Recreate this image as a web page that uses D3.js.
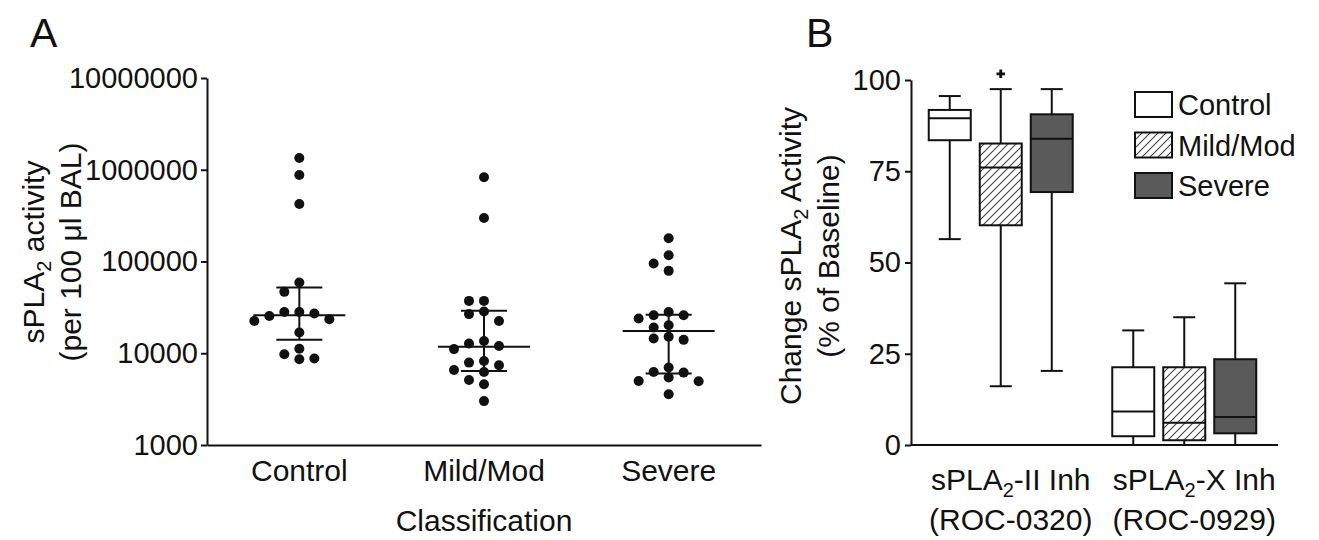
<!DOCTYPE html>
<html>
<head>
<meta charset="utf-8">
<script src="https://cdn.jsdelivr.net/npm/d3@7"></script>
<style>
body { margin: 0; background: #fff; }
text { font-family: "Liberation Sans", Arial, sans-serif; fill: #111; }
</style>
</head>
<body>
<svg id="chart" width="1319" height="540"></svg>
<script>
// Panel A: sPLA2 activity per subject (log scale)
let groupsA = ['Control', 'Mild/Mod', 'Severe'];
let controlA = [1340000, 877000, 424000, 59000, 46700, 28200, 28200, 27100, 25500, 23500, 22500, 16800, 11200, 9750, 8750, 8600];
let mildA = [828000, 298000, 37200, 37200, 28500, 26700, 22500, 13600, 12800, 12000, 11100, 8240, 7910, 7400, 6570, 6250, 5120, 4590, 3010];
let severeA = [179000, 117000, 95300, 79100, 28200, 26000, 26000, 23900, 20200, 19100, 15100, 14500, 14000, 6980, 6250, 6150, 5430, 4990, 4950, 3570];
let medianA = [26000, 11800, 17500];
let q1A = [14000, 6400, 6000];
let q3A = [52000, 29000, 26200];
let ticksA = [1000, 10000, 100000, 1000000, 10000000];

// Panel B: change in activity, boxes as [min, q1, median, q3, max]
let categoriesB = ['sPLA2-II', 'sPLA2-X'];
let catLine1 = ['-II Inh', '-X Inh'];
let catLine2 = ['(ROC-0320)', '(ROC-0929)'];
let groupsB = ['Control', 'Mild/Mod', 'Severe'];
let controlB = [[56.4, 83.5, 89.5, 91.8, 95.6], [0, 2.4, 9.2, 21.3, 31.4]];
let mildB = [[16.1, 60.2, 76.0, 82.6, 97.5], [0, 1.3, 6.1, 21.3, 35.0]];
let severeB = [[20.3, 69.3, 83.9, 90.6, 97.5], [0, 3.2, 7.7, 23.5, 44.3]];
let outliersB = [{ group: 'Mild/Mod', cat: 'sPLA2-II', value: 101.7 }];
let ticksB = [0, 25, 50, 75, 100];
let fillsB = ['#ffffff', 'url(#hatch)', '#5a5a5a'];

let svg = d3.select('#chart');
svg.append('rect').attr('width', 1319).attr('height', 540).attr('fill', '#fff');

let defs = svg.append('defs');
let pat = defs.append('pattern')
    .attr('id', 'hatch')
    .attr('patternUnits', 'userSpaceOnUse')
    .attr('width', 8)
    .attr('height', 8);
pat.append('rect').attr('width', 8).attr('height', 8).attr('fill', '#fff');
pat.append('path')
    .attr('d', 'M-2,2 l4,-4 M0,8 l8,-8 M6,10 l4,-4')
    .attr('stroke', '#444')
    .attr('stroke-width', 1.1);

function styleAxis(g) {
    g.selectAll('path, line').attr('stroke', '#111').attr('stroke-width', 2);
    g.selectAll('text').style('font-family', '"Liberation Sans", Arial, sans-serif').attr('fill', '#111');
}

// ---------- Panel A ----------
let xA = d3.scaleBand().domain(groupsA).range([207, 761]);
let yA = d3.scaleLog().domain([1000, 10000000]).range([445, 78]);

svg.append('g')
    .attr('transform', 'translate(207,0)')
    .call(d3.axisLeft(yA).tickValues(ticksA).tickFormat(d3.format('d')).tickSize(6).tickSizeOuter(0).tickPadding(3))
    .call(styleAxis)
    .selectAll('text').style('font-size', '29px');

svg.append('g')
    .attr('transform', 'translate(0,445)')
    .call(d3.axisBottom(xA).tickSize(0).tickSizeOuter(0).tickPadding(15))
    .call(styleAxis)
    .selectAll('text').style('font-size', '30px');

svg.append('text')
    .attr('x', xA(groupsA[1]) + xA.bandwidth() / 2)
    .attr('y', 531)
    .attr('text-anchor', 'middle')
    .style('font-size', '30px')
    .text('Classification');

let titleA1 = svg.append('text')
    .attr('transform', 'translate(44,252) rotate(-90)')
    .attr('text-anchor', 'middle')
    .style('font-size', '30px');
titleA1.append('tspan').text('sPLA');
titleA1.append('tspan').attr('dy', 7).style('font-size', '20px').text('2');
titleA1.append('tspan').attr('dy', -7).text(' activity');

svg.append('text')
    .attr('transform', 'translate(81,252) rotate(-90)')
    .attr('text-anchor', 'middle')
    .style('font-size', '30px')
    .text('(per 100 \u03bcl BAL)');

svg.append('text').attr('x', 30).attr('y', 47).style('font-size', '41px').text('A');

// simple column dodge so dots don't overlap
function swarm(values, cx) {
    let placed = [];
    let order = [0, -1, 1, -2, 2, -3, 3, -4, 4];
    values.slice().sort((a, b) => b - a).forEach(v => {
        let py = yA(v);
        for (let k of order) {
            let hit = placed.some(p => p.k === k && Math.abs(p.y - py) < 10);
            if (!hit) {
                placed.push({ k: k, y: py, x: cx + k * 15 });
                break;
            }
        }
    });
    return placed;
}

let seriesA = [controlA, mildA, severeA];
groupsA.forEach((g, i) => {
    let cx = xA(g) + xA.bandwidth() / 2;
    let pts = swarm(seriesA[i], cx);
    svg.append('g').selectAll('circle')
        .data(pts)
        .join('circle')
        .attr('cx', d => d.x)
        .attr('cy', d => d.y)
        .attr('r', 5)
        .attr('fill', '#111');

    let eg = svg.append('g').attr('stroke', '#111').attr('stroke-width', 2);
    eg.append('line').attr('x1', cx - 46).attr('x2', cx + 46).attr('y1', yA(medianA[i])).attr('y2', yA(medianA[i]));
    eg.append('line').attr('x1', cx).attr('x2', cx).attr('y1', yA(q1A[i])).attr('y2', yA(q3A[i]));
    eg.append('line').attr('x1', cx - 23).attr('x2', cx + 23).attr('y1', yA(q1A[i])).attr('y2', yA(q1A[i]));
    eg.append('line').attr('x1', cx - 23).attr('x2', cx + 23).attr('y1', yA(q3A[i])).attr('y2', yA(q3A[i]));
});

// ---------- Panel B ----------
let x0 = d3.scaleBand().domain(categoriesB).range([909, 1276]);
let x1 = d3.scalePoint().domain(groupsB).range([-51, 51]);
let yB = d3.scaleLinear().domain([0, 100]).range([445, 80]);
let boxW = 42, capW = 22;

svg.append('g')
    .attr('transform', 'translate(911,0)')
    .call(d3.axisLeft(yB).tickValues(ticksB).tickSize(6).tickSizeOuter(0).tickPadding(4))
    .call(styleAxis)
    .selectAll('text').style('font-size', '29px');

svg.append('line')
    .attr('x1', 911).attr('x2', 1278)
    .attr('y1', 445).attr('y2', 445)
    .attr('stroke', '#111').attr('stroke-width', 2);

categoriesB.forEach((c, i) => {
    let cx = x0(c) + x0.bandwidth() / 2 + 10;
    let t = svg.append('text')
        .attr('x', cx).attr('y', 490)
        .attr('text-anchor', 'middle')
        .style('font-size', '30px');
    t.append('tspan').text('sPLA');
    t.append('tspan').attr('dy', 7).style('font-size', '20px').text('2');
    t.append('tspan').attr('dy', -7).text(catLine1[i]);
    svg.append('text')
        .attr('x', cx).attr('y', 530)
        .attr('text-anchor', 'middle')
        .style('font-size', '30px')
        .text(catLine2[i]);
});

let titleB1 = svg.append('text')
    .attr('transform', 'translate(801,256) rotate(-90)')
    .attr('text-anchor', 'middle')
    .style('font-size', '30px');
titleB1.append('tspan').text('Change sPLA');
titleB1.append('tspan').attr('dy', 7).style('font-size', '20px').text('2');
titleB1.append('tspan').attr('dy', -7).text(' Activity');

svg.append('text')
    .attr('transform', 'translate(839,256) rotate(-90)')
    .attr('text-anchor', 'middle')
    .style('font-size', '30px')
    .text('(% of Baseline)');

svg.append('text').attr('x', 806).attr('y', 47).style('font-size', '41px').text('B');

let seriesB = [controlB, mildB, severeB];
let boxes = [];
groupsB.forEach((g, gi) => {
    categoriesB.forEach((c, ci) => {
        let s = seriesB[gi][ci];
        boxes.push({ g: g, gi: gi, c: c, min: s[0], q1: s[1], med: s[2], q3: s[3], max: s[4] });
    });
});

let bg = svg.append('g').attr('stroke', '#111').attr('stroke-width', 2);
boxes.forEach(b => {
    let cx = x0(b.c) + x0.bandwidth() / 2 + x1(b.g);
    bg.append('line').attr('x1', cx).attr('x2', cx).attr('y1', yB(b.max)).attr('y2', yB(b.q3));
    bg.append('line').attr('x1', cx).attr('x2', cx).attr('y1', yB(b.q1)).attr('y2', yB(b.min));
    bg.append('line').attr('x1', cx - capW / 2).attr('x2', cx + capW / 2).attr('y1', yB(b.max)).attr('y2', yB(b.max));
    bg.append('line').attr('x1', cx - capW / 2).attr('x2', cx + capW / 2).attr('y1', yB(b.min)).attr('y2', yB(b.min));
    bg.append('rect')
        .attr('x', cx - boxW / 2).attr('width', boxW)
        .attr('y', yB(b.q3)).attr('height', yB(b.q1) - yB(b.q3))
        .attr('fill', fillsB[b.gi]);
    bg.append('line').attr('x1', cx - boxW / 2).attr('x2', cx + boxW / 2).attr('y1', yB(b.med)).attr('y2', yB(b.med));
});

svg.append('g').selectAll('path')
    .data(outliersB)
    .join('path')
    .attr('transform', d => 'translate(' + (x0(d.cat) + x0.bandwidth() / 2 + x1(d.group)) + ',' + yB(d.value) + ')')
    .attr('d', d3.symbol(d3.symbolCross, 40))
    .attr('fill', '#111');

// legend
let lg = svg.append('g').attr('transform', 'translate(1135,92)');
groupsB.forEach((g, i) => {
    lg.append('rect')
        .attr('x', 0).attr('y', i * 40.5)
        .attr('width', 37).attr('height', 25)
        .attr('fill', fillsB[i])
        .attr('stroke', '#111').attr('stroke-width', 2);
    lg.append('text')
        .attr('x', 43).attr('y', i * 40.5 + 23)
        .style('font-size', '29px')
        .text(g);
});
</script>
</body>
</html>
